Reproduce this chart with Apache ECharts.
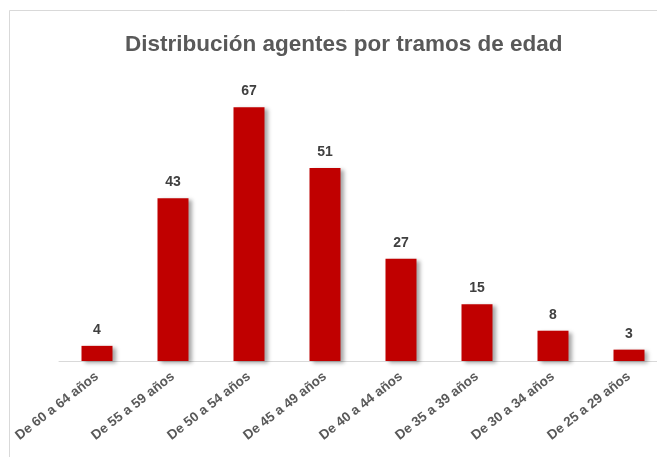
<!DOCTYPE html>
<html>
<head>
<meta charset="utf-8">
<script src="https://cdn.jsdelivr.net/npm/echarts@6/dist/echarts.min.js"></script>
<style>
  html, body { margin: 0; padding: 0; background: #fff; overflow: hidden; }
  #chart { width: 680px; height: 457px; }
</style>
</head>
<body>
<div id="chart"></div>
<script>
const chartTitle = "Distribución agentes por tramos de edad";
const categories = [
  "De 60 a 64 años", "De 55 a 59 años", "De 50 a 54 años", "De 45 a 49 años",
  "De 40 a 44 años", "De 35 a 39 años", "De 30 a 34 años", "De 25 a 29 años"
];
const agentes = [4, 43, 67, 51, 27, 15, 8, 3];

// the reference picture is a crop of a wider chart, so the canvas runs past the window
const chart = echarts.init(document.getElementById("chart"));

chart.setOption({
  backgroundColor: "#fff",
  animation: false,
  title: {
    text: chartTitle,
    left: 120,
    top: 28,
    textStyle: {
      fontFamily: "Liberation Sans",
      fontSize: 22.5,
      fontWeight: "bold",
      color: "#595959"
    }
  },
  graphic: [{
    type: "rect",
    shape: { x: 9.5, y: 10.5, width: 700, height: 500 },
    style: { fill: "none", stroke: "#d9d9d9", lineWidth: 1 },
    silent: true
  }],
  grid: { left: 59, right: 13, top: 96, bottom: 96 },
  xAxis: {
    type: "category",
    data: categories,
    axisLine: { lineStyle: { color: "#d9d9d9", width: 1 } },
    axisTick: { show: false },
    axisLabel: {
      rotate: 38,
      interval: 0,
      margin: 14,
      fontFamily: "Liberation Sans",
      fontSize: 13.5,
      fontWeight: "bold",
      color: "#595959"
    }
  },
  yAxis: {
    type: "value",
    min: 0,
    max: 70,
    show: false,
    splitLine: { show: false }
  },
  series: [{
    type: "bar",
    data: agentes,
    barWidth: 31,
    itemStyle: {
      color: "#c00000",
      shadowColor: "rgba(0,0,0,0.35)",
      shadowBlur: 4,
      shadowOffsetX: 3,
      shadowOffsetY: 2
    },
    label: {
      show: true,
      position: "top",
      distance: 9,
      fontFamily: "Liberation Sans",
      fontSize: 14,
      fontWeight: "bold",
      color: "#404040"
    }
  }]
});
</script>
</body>
</html>
